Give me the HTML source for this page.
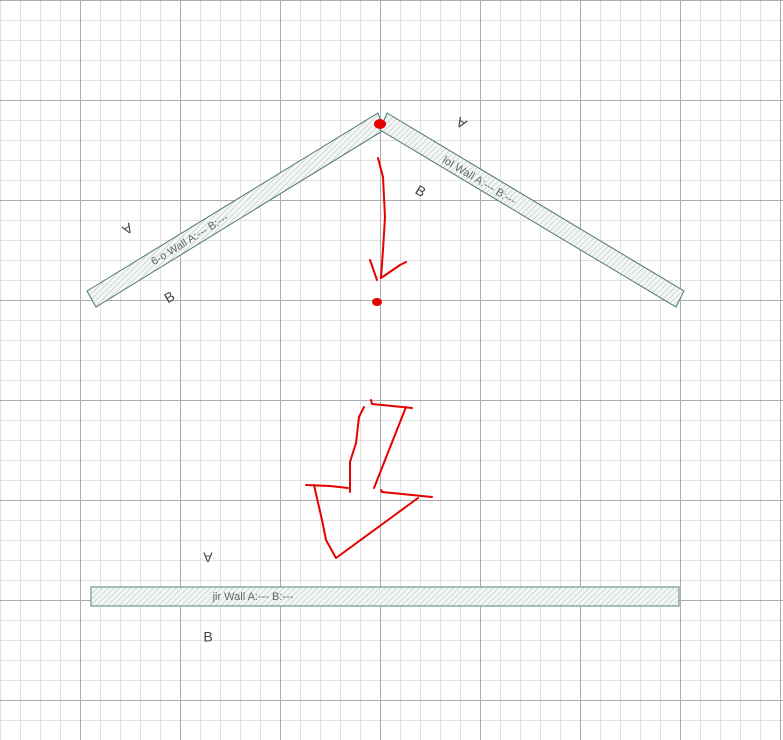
<!DOCTYPE html>
<html><head><meta charset="utf-8"><style>
html,body{margin:0;padding:0;background:#fff;}
svg{display:block;font-family:"Liberation Sans",sans-serif;}
</style></head><body>
<svg width="783" height="740" viewBox="0 0 783 740">
<defs>
<pattern id="minor" width="20" height="20" patternUnits="userSpaceOnUse">
<path d="M0 0H20M0 0V20" stroke="#e2e2e2" stroke-width="2" fill="none"/>
</pattern>
<pattern id="major" x="80" y="0" width="100" height="100" patternUnits="userSpaceOnUse">
<path d="M0 0H100M0 0V100" stroke="#adadad" stroke-width="2" fill="none"/>
</pattern>
<pattern id="hatch" width="4" height="4" patternUnits="userSpaceOnUse" patternTransform="rotate(45)">
<rect width="4" height="4" fill="#f4f7f6"/>
<line x1="0" y1="0" x2="0" y2="4" stroke="#b9c6c2" stroke-width="1.2"/>
</pattern>
</defs>
<rect width="783" height="740" fill="#fff"/>
<rect width="783" height="740" fill="url(#minor)"/>
<rect width="783" height="740" fill="url(#major)"/>

<g>
<polygon points="87,291 378,113 384,130 96,307" fill="url(#hatch)" stroke="#4d7a6c" stroke-width="1"/>
<text x="0" y="0" transform="translate(190,240) rotate(-31.5)" font-size="11" fill="#666" text-anchor="middle" dominant-baseline="middle">6-o Wall A:--- B:---</text>
</g>
<g>
<polygon points="387,113 684,291 676,307 380,130" fill="url(#hatch)" stroke="#4d7a6c" stroke-width="1"/>
<text x="0" y="0" transform="translate(479,181) rotate(31)" font-size="11" fill="#666" text-anchor="middle" dominant-baseline="middle">lol Wall A:--- B:---</text>
</g>
<g>
<rect x="91" y="587" width="588" height="19" fill="url(#hatch)" stroke="#6f9a8d" stroke-width="1.2"/>
<text x="253" y="600" font-size="11" fill="#666" text-anchor="middle">jir Wall A:--- B:---</text>
</g>

<g font-size="14" fill="#444" text-anchor="middle" dominant-baseline="middle">
<text transform="translate(127,228) rotate(149)">A</text>
<text transform="translate(170,298) rotate(-31)">B</text>
<text transform="translate(462,122) rotate(211)">A</text>
<text transform="translate(420,192) rotate(31)">B</text>
<text transform="translate(208,556) rotate(180)">A</text>
<text x="208" y="638">B</text>
</g>

<g fill="none" stroke="#e60000" stroke-width="2" stroke-linecap="round" stroke-linejoin="round">
<ellipse cx="380" cy="124" rx="6" ry="5" fill="#e60000" stroke="none"/>
<ellipse cx="377" cy="302" rx="5" ry="4" fill="#e60000" stroke="none"/>
<path d="M378,158 L383,177 L385,217 L383,250 L381,278"/>
<path d="M370,260 L377,280"/>
<path d="M381,278 L400,265 L406,262"/>
<path d="M371,400 L372,404 L412,408"/>
<path d="M406,407 L374,488"/>
<path d="M364,407 L359,417 L356,443 L350,462 L350,492"/>
<path d="M306,485 L330,486 L348,488"/>
<path d="M381,490 L382,492 L432,497"/>
<path d="M314,485 L322,520 L326,540 L336,558"/>
<path d="M336,558 L418,498"/>
</g>
</svg>
</body></html>
